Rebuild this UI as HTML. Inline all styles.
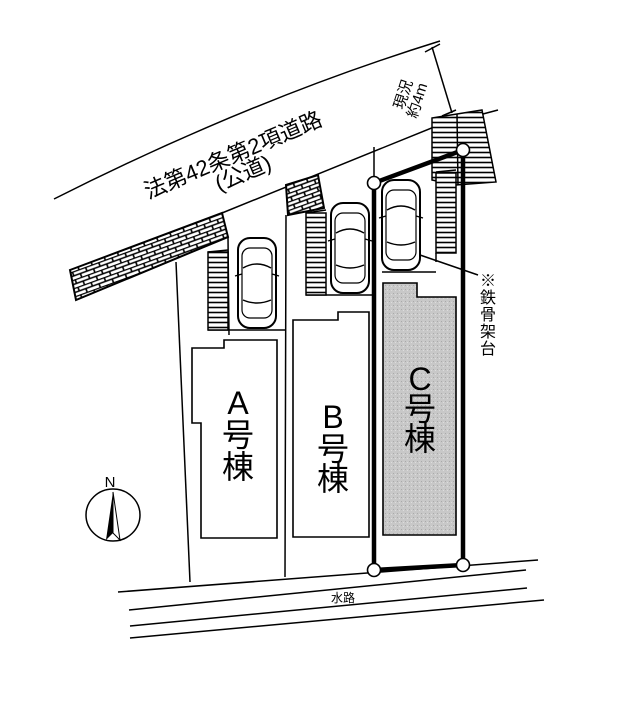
<!DOCTYPE html>
<html><head><meta charset="utf-8"><style>html,body{margin:0;padding:0;background:#fff}svg{display:block}</style></head><body>
<svg width="620" height="715" viewBox="0 0 620 715" xmlns="http://www.w3.org/2000/svg" font-family="Liberation Sans, Noto Sans CJK JP, sans-serif">
<defs>
<pattern id="brick" width="14" height="8" patternUnits="userSpaceOnUse" patternTransform="rotate(-20)">
<rect width="14" height="8" fill="#fff"/>
<path d="M0 0.5H14M0 4.5H14M3 0.5V4.5M10 4.5V8.5" stroke="#000" stroke-width="1.6" fill="none"/>
</pattern>
<pattern id="hl" width="8" height="5" patternUnits="userSpaceOnUse"><rect width="8" height="5" fill="#fff"/><path d="M0 2.5H8" stroke="#000" stroke-width="1.6"/></pattern>
<pattern id="gray" width="4" height="4" patternUnits="userSpaceOnUse"><rect width="4" height="4" fill="#c8c8c8"/><rect x="1" y="1" width="1" height="1" fill="#aaa"/><rect x="3" y="2" width="1" height="1" fill="#ddd"/></pattern>
<g id="car">
<rect x="0" y="0" width="38" height="90" rx="12" fill="#fff" stroke="#000" stroke-width="2"/>
<rect x="4" y="10" width="30" height="70" rx="8" fill="none" stroke="#000" stroke-width="1.2"/>
<path d="M5 30 Q19 22 33 30 M5 62 Q19 68 33 62 M4 36 L-3 38 M34 36 L41 38" stroke="#000" stroke-width="1.4" fill="none"/>
</g>
</defs>
<g stroke="#000" stroke-width="1.5" fill="none">
<path d="M54 199 Q250 100 440 41"/>
<path d="M222 213 L434 127 L498 110"/>
<polygon points="70,270 222,213 228,237 76,300" fill="url(#brick)" stroke-width="2"/>
<polygon points="286,185 318,175 324,208 288,215" fill="url(#brick)" stroke-width="2"/>
<polygon points="432,118 482,110 496,182 456,185 432,180" fill="url(#hl)" stroke-width="1.5"/>
<line x1="457" y1="114" x2="458" y2="185"/>
<line x1="432" y1="47" x2="452" y2="113"/>
<path d="M425 52 L440 44 M442 116 L456 110"/>
<path d="M176 262 L190 582"/>
<path d="M228 237 L229 335 M286 215 L285 577"/>
<line x1="374" y1="147" x2="374" y2="183"/>
<path d="M208 252 L228 250 M208 330 L285 330"/>
<path d="M306 213 L326 210 M306 295 L374 295"/>
<path d="M436 172 L456 170 M382 272 L436 272 M436 253 V262"/>
<rect x="208" y="252" width="20" height="78" fill="url(#hl)"/>
<rect x="306" y="213" width="20" height="82" fill="url(#hl)"/>
<rect x="436" y="173" width="20" height="80" fill="url(#hl)"/>
<path d="M192 348 H224 V340 H277 V538 H201 V423 H192 Z" stroke-width="1.6"/>
<path d="M293 320 H338 V312 H369 V537 H293 Z" stroke-width="1.6"/>
<path d="M383 283 H417 V297 H456 V535 H383 Z" fill="url(#gray)" stroke-width="1.6"/>
<path d="M374 183 L463 150 L463 565 L374 570 Z" stroke-width="4.5"/>
<line x1="420" y1="255" x2="478" y2="275"/>
<line x1="118" y1="592" x2="538" y2="560"/>
<line x1="129" y1="610" x2="526" y2="570"/>
<line x1="130" y1="626" x2="527" y2="588"/>
<line x1="130" y1="638" x2="544" y2="600"/>
<ellipse cx="113" cy="515" rx="27" ry="26"/>
</g>
<polygon points="113,492 106,540 113,533" fill="#000"/>
<polygon points="113,492 120,540 113,533" fill="#fff" stroke="#000" stroke-width="1"/>
<g fill="#fff" stroke="#000" stroke-width="1.6">
<circle cx="374" cy="183" r="6.5"/><circle cx="463" cy="150" r="6.5"/>
<circle cx="374" cy="570" r="6.5"/><circle cx="463" cy="565" r="6.5"/>
</g>
<use href="#car" x="238" y="238"/>
<use href="#car" x="331" y="203"/>
<use href="#car" x="382" y="180"/>
<g fill="#000" text-anchor="middle">
<text x="110" y="487" font-size="15">N</text>
<text x="236" y="162" font-size="22" transform="rotate(-23 236 162)">法第42条第2項道路</text>
<text x="246" y="180" font-size="22" transform="rotate(-23 246 180)">(公道)</text>
<text x="408" y="96" font-size="15" transform="rotate(-72 408 96)">現況</text>
<text x="422" y="102" font-size="15" transform="rotate(-72 422 102)">約4m</text>
<text x="343" y="602" font-size="12">水路</text>
<g font-size="32">
<text x="238" y="414">A</text><text x="238" y="446">号</text><text x="238" y="478">棟</text>
<text x="333" y="428">B</text><text x="333" y="460">号</text><text x="333" y="490">棟</text>
<text x="420" y="390">C</text><text x="420" y="420">号</text><text x="420" y="450">棟</text>
</g>
<g font-size="16">
<text x="488" y="286">※</text><text x="488" y="303">鉄</text><text x="488" y="320">骨</text><text x="488" y="337">架</text><text x="488" y="354">台</text>
</g>
</g>
</svg>
</body></html>
